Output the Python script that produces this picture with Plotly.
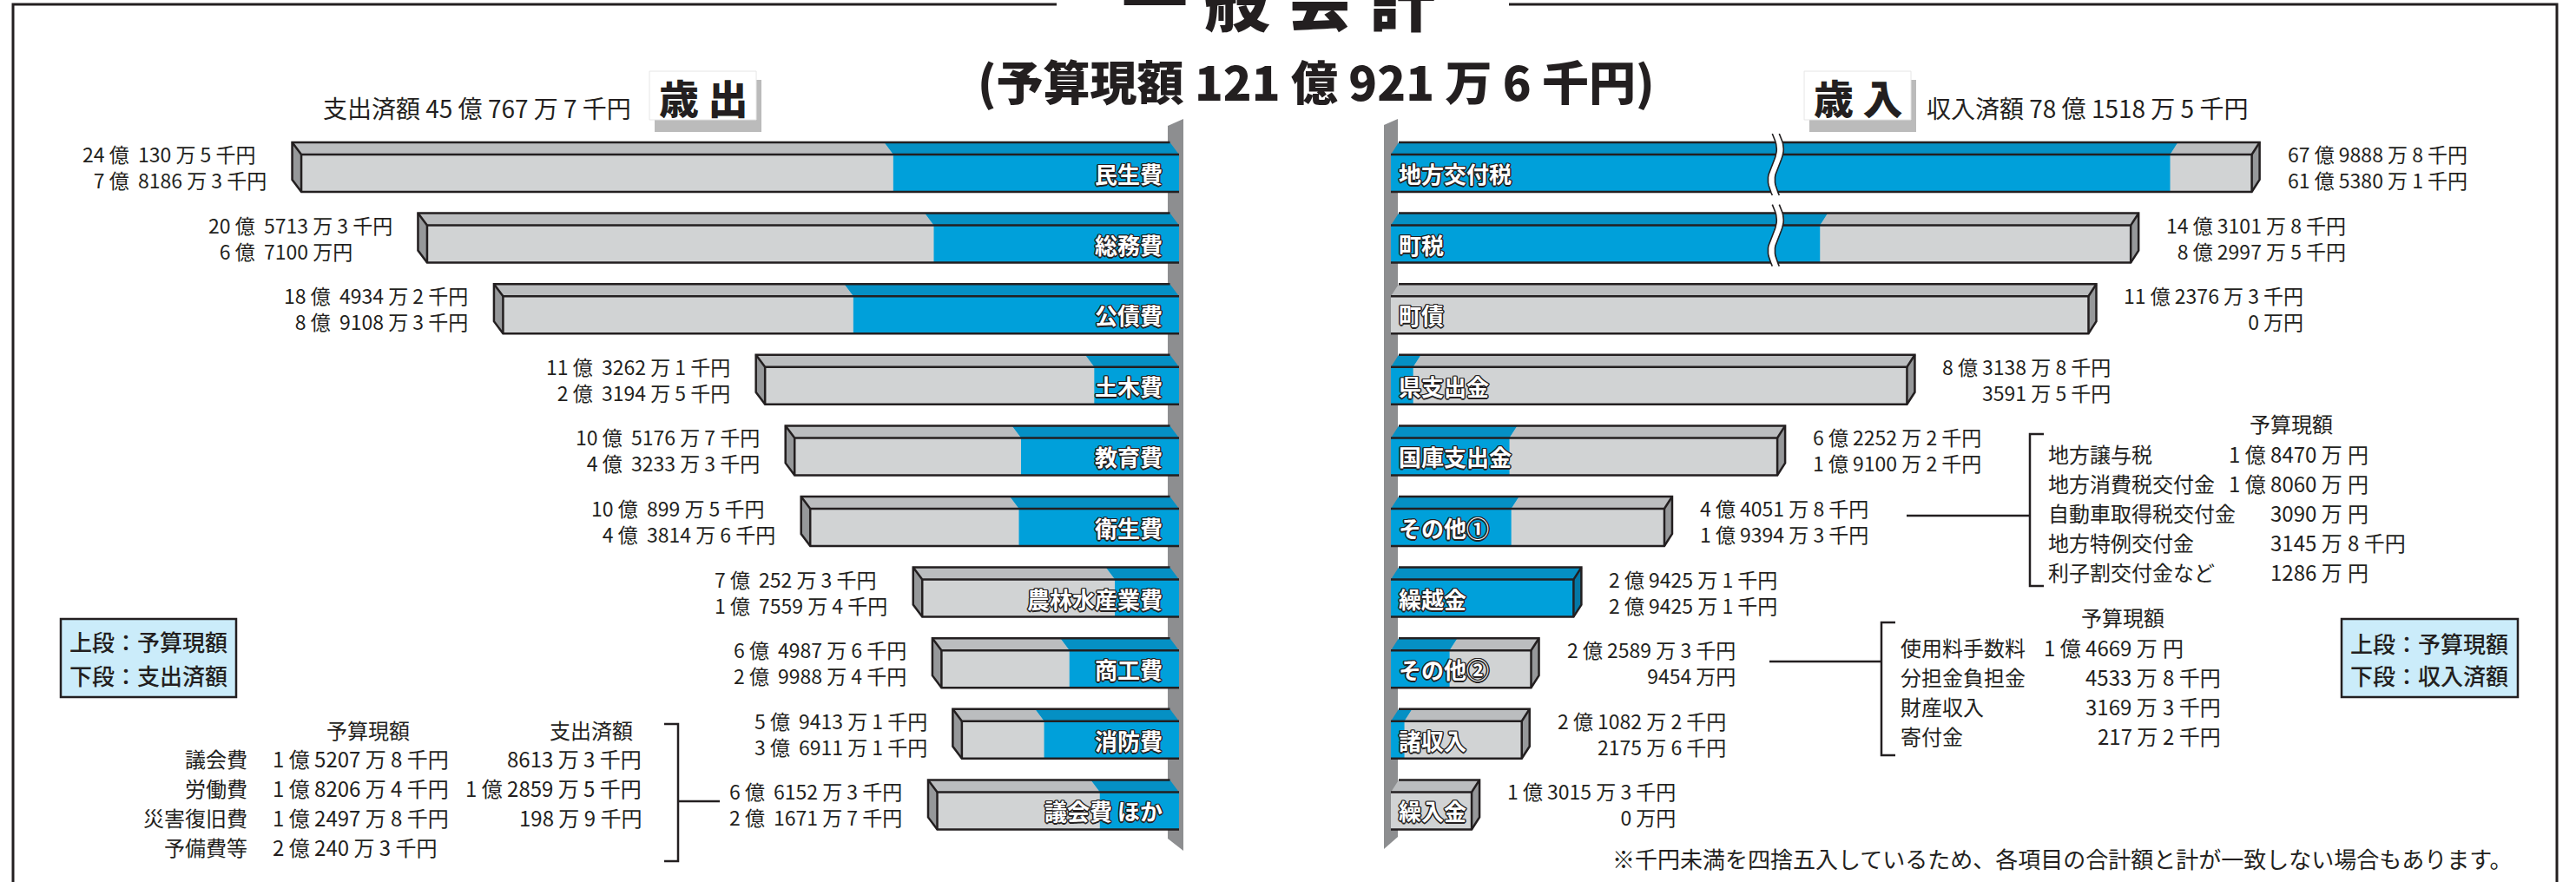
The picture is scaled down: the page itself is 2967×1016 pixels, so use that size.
import math
import plotly.graph_objects as go

W, H = 2967, 1016
FONT = "Noto Sans CJK JP"
INK = "#231f20"

# ---------------- data (units: 千円) ----------------
exp_categories = ["民生費", "総務費", "公債費", "土木費", "教育費", "衛生費",
                  "農林水産業費", "商工費", "消防費", "議会費 ほか"]
exp_budget = [2401305, 2057133, 1849342, 1132621, 1051767, 1008995,
              702523, 649876, 594131, 661523]
exp_spent = [781863, 671000, 891083, 231945, 432333, 438146,
             175594, 299884, 369111, 216717]

rev_categories = ["地方交付税", "町税", "町債", "県支出金", "国庫支出金",
                  "その他①", "繰越金", "その他②", "諸収入", "繰入金"]
rev_budget = [6798888, 1431018, 1123763, 831388, 622522,
              440518, 294251, 225893, 210822, 130153]
rev_received = [6153801, 829975, 0, 35915, 191002,
                193943, 294251, 94540, 21756, 0]
rev_axis_break = [True, True, False, False, False,
                  False, False, False, False, False]

total_budget = 12109216
total_spent = 4507677
total_received = 7815185

other_exp_items = ["議会費", "労働費", "災害復旧費", "予備費等"]
other_exp_budget = [152078, 182064, 124978, 202403]
other_exp_spent = [86133, 128595, 1989, None]

other_rev1_items = ["地方譲与税", "地方消費税交付金", "自動車取得税交付金",
                    "地方特例交付金", "利子割交付金など"]
other_rev1_budget = [184700, 180600, 30900, 31458, 12860]

other_rev2_items = ["使用料手数料", "分担金負担金", "財産収入", "寄付金"]
other_rev2_budget = [146690, 45338, 31693, 2172]

footnote = "※千円未満を四捨五入しているため、各項目の合計額と計が一致しない場合もあります。"


def fmt(v):
    oku, rem = divmod(v, 100000)
    man, sen = divmod(rem, 10)
    s = (f"{oku} 億 " if oku else "") + f"{man} 万"
    s += f" {sen} 千円" if sen else "円"
    return s


def text_w(s, size):
    w = 0.0
    for ch in s:
        if ch.isdigit():
            w += 0.56
        elif ch == " ":
            w += 0.224
        else:
            w += 1.0
    return w * size


# ---------------- geometry / scales ----------------
LX0, LPX = 1358, 42.1      # left axis zero (px), px per 億
RX0, RPX = 1602, 71.5      # right axis zero (px), px per 億
ROW0, ROWPX = 192, 81.6    # first row centre (px), row pitch (px)
BREAK, COMP_C, COMP_P = 6.20, 4.226, 0.1445   # visual axis break for huge bars

yT_off, yF_off, yB_off = -28 / ROWPX, -14 / ROWPX, 29 / ROWPX
CAPY = 14 / ROWPX
dL = 10.5 / LPX
dR = 9 / RPX

C_GRAY, C_GRAY_TOP, C_GRAY_CAP = "#d1d3d4", "#bbbdbf", "#96989a"
C_BLUE, C_BLUE_TOP, C_BLUE_CAP = "#00a0da", "#0590c4", "#0478a6"

VAL_SIZE = 23
TAB_SIZE = 24


def px(x):
    return x / W


def py(y):
    return 1 - y / H


def shown(v, broken):
    if broken and v > BREAK:
        return BREAK + COMP_C * (v - BREAK) ** COMP_P
    return v


def add_poly(store, pts):
    xs, ys = store
    for x, y in pts + [pts[0]]:
        xs.append(x)
        ys.append(y)
    xs.append(None)
    ys.append(None)


def add_line(store, pts):
    xs, ys = store
    for x, y in pts:
        xs.append(x)
        ys.append(y)
    xs.append(None)
    ys.append(None)


def build_bars(lengths, fills, d, xaxis):
    layers = {k: ([], []) for k in ["gf", "bf", "gt", "bt", "gc", "bc", "ol"]}
    for k, (L, S) in enumerate(zip(lengths, fills)):
        yT, yF, yB = k + yT_off, k + yF_off, k + yB_off
        yC = yB - CAPY
        add_poly(layers["gf"], [(0, yF), (L, yF), (L, yB), (0, yB)])
        if S > 0:
            add_poly(layers["bf"], [(0, yF), (S, yF), (S, yB), (0, yB)])
            add_poly(layers["bt"], [(0, yF), (S, yF), (S + d, yT), (d, yT)])
        if S < L:
            add_poly(layers["gt"], [(S, yF), (L, yF), (L + d, yT), (S + d, yT)])
        cap = [(L, yF), (L + d, yT), (L + d, yC), (L, yB)]
        add_poly(layers["bc" if S >= L else "gc"], cap)
        add_line(layers["ol"], [(d, yT), (L + d, yT), (L + d, yC), (L, yB), (0, yB)])
        add_line(layers["ol"], [(0, yF), (L, yF), (L + d, yT)])
        add_line(layers["ol"], [(L, yF), (L, yB)])
    colors = {"gf": C_GRAY, "bf": C_BLUE, "gt": C_GRAY_TOP, "bt": C_BLUE_TOP,
              "gc": C_GRAY_CAP, "bc": C_BLUE_CAP}
    traces = []
    for key in ["gf", "bf", "gt", "bt", "gc", "bc"]:
        xs, ys = layers[key]
        if not xs:
            continue
        traces.append(go.Scatter(x=xs, y=ys, xaxis=xaxis, yaxis="y", mode="lines",
                                 line=dict(width=0, color=colors[key]), fill="toself",
                                 fillcolor=colors[key], hoverinfo="skip", showlegend=False))
    xs, ys = layers["ol"]
    traces.append(go.Scatter(x=xs, y=ys, xaxis=xaxis, yaxis="y", mode="lines",
                             line=dict(width=2.5, color=INK), hoverinfo="skip",
                             showlegend=False))
    return traces


fig = go.Figure()

# left (expenditure) bars
exp_len = [b / 1e5 for b in exp_budget]
exp_fill = [s / 1e5 for s in exp_spent]
for t in build_bars(exp_len, exp_fill, dL, "x"):
    fig.add_trace(t)

# right (revenue) bars
rev_len = [shown(b / 1e5, br) for b, br in zip(rev_budget, rev_axis_break)]
rev_fill = [Ls * (r / b) for Ls, r, b in zip(rev_len, rev_received, rev_budget)]
for t in build_bars(rev_len, rev_fill, dR, "x2"):
    fig.add_trace(t)

# axis-break marks
for k, br in enumerate(rev_axis_break):
    if not br:
        continue
    y0, y1 = k - 38 / ROWPX, k + 33 / ROWPX
    n = 24
    left, right = [], []
    for i in range(n + 1):
        t = i / n
        yy = y0 + (y1 - y0) * t
        xw = BREAK + (5 / RPX) * math.sin(2 * math.pi * t)
        left.append((xw - 4 / RPX, yy))
        right.append((xw + 4 / RPX, yy))
    poly = left + right[::-1]
    fig.add_trace(go.Scatter(x=[p[0] for p in poly] + [poly[0][0]],
                             y=[p[1] for p in poly] + [poly[0][1]],
                             xaxis="x2", yaxis="y", mode="lines", fill="toself",
                             fillcolor="white", line=dict(width=0, color="white"),
                             hoverinfo="skip", showlegend=False))
    lx = [p[0] for p in left] + [None] + [p[0] for p in right]
    ly = [p[1] for p in left] + [None] + [p[1] for p in right]
    fig.add_trace(go.Scatter(x=lx, y=ly, xaxis="x2", yaxis="y", mode="lines",
                             line=dict(width=1.6, color=INK), hoverinfo="skip",
                             showlegend=False))

ann = []
OUTLINE = ", ".join(f"{a}px {b}px 0 {INK}" for a, b in
                    [(1, 1), (-1, -1), (1, -1), (-1, 1), (0, 1.5), (0, -1.5), (1.5, 0), (-1.5, 0)])
LBL_FONT = dict(family=FONT, size=26, color="white", weight=700, shadow=OUTLINE)
VAL_FONT = dict(family=FONT, size=VAL_SIZE, color=INK)

# category labels on bars
for k, name in enumerate(exp_categories):
    ann.append(dict(x=17 / LPX, y=k + 7.5 / ROWPX, xref="x", yref="y", text=name,
                    xanchor="right", yanchor="middle", showarrow=False, font=LBL_FONT))
for k, name in enumerate(rev_categories):
    ann.append(dict(x=7 / RPX, y=k + 7.5 / ROWPX, xref="x2", yref="y", text=name,
                    xanchor="left", yanchor="middle", showarrow=False, font=LBL_FONT))

# left value labels (aligned on 億)
GAP_L = 34
for k in range(len(exp_categories)):
    lines = [fmt(exp_budget[k]), fmt(exp_spent[k])]
    pre, suf = [], []
    for s in lines:
        if "億" in s:
            i = s.index("億")
            pre.append(s[:i + 1])
            suf.append(s[i + 1:].strip())
        else:
            pre.append("")
            suf.append(s)
    maxw = max(text_w(s, VAL_SIZE) for s in suf)
    A = exp_len[k] + (10.5 + GAP_L + maxw) / LPX
    ann.append(dict(x=A, y=k, xref="x", yref="y", text="<br>".join(pre), align="right",
                    xanchor="right", yanchor="middle", xshift=-3, showarrow=False,
                    font=VAL_FONT))
    ann.append(dict(x=A, y=k, xref="x", yref="y", text="<br>".join(suf), align="left",
                    xanchor="left", yanchor="middle", xshift=3, showarrow=False,
                    font=VAL_FONT))

# right value labels (right aligned block)
for k in range(len(rev_categories)):
    txt = fmt(rev_budget[k]) + "<br>" + fmt(rev_received[k])
    ann.append(dict(x=rev_len[k] + dR + 30 / RPX, y=k, xref="x2", yref="y", text=txt,
                    align="right", xanchor="left", yanchor="middle", showarrow=False,
                    font=VAL_FONT))


def pa(xp, yp, text, xanchor="center", size=TAB_SIZE, weight=400, color=INK, yanchor="middle"):
    ann.append(dict(x=px(xp), y=py(yp), xref="paper", yref="paper", text=text,
                    xanchor=xanchor, yanchor=yanchor, showarrow=False,
                    font=dict(family=FONT, size=size, color=color, weight=weight)))


# titles
for ch, xc in zip("一般会計", [1330, 1425, 1520, 1615]):
    pa(xc, -3, ch, size=76, weight=900)
pa(1516, 92, "(予算現額 " + fmt(total_budget) + ")", size=54, weight=900)
pa(810, 111, "歳 出", size=46, weight=900)
pa(2140, 111, "歳 入", size=46, weight=900)
pa(729, 124, "支出済額 " + fmt(total_spent), xanchor="right", size=28)
pa(2217, 124, "収入済額 " + fmt(total_received), xanchor="left", size=28)

# legend boxes
pa(171, 738, "上段：予算現額", size=26, weight=500)
pa(171, 777, "下段：支出済額", size=26, weight=500)
pa(2798, 740, "上段：予算現額", size=26, weight=500)
pa(2798, 777, "下段：収入済額", size=26, weight=500)

# left breakdown table
pa(424, 840, "予算現額")
pa(681, 840, "支出済額")
for i, name in enumerate(other_exp_items):
    yy = 873 + 34 * i
    pa(287, yy, name, xanchor="right")
    pa(312, yy, fmt(other_exp_budget[i]), xanchor="left")
    if other_exp_spent[i] is not None:
        pa(741, yy, fmt(other_exp_spent[i]), xanchor="right")


def man_split(s):
    i = s.index("万")
    return s[:i + 1], s[i + 1:].strip()


# right breakdown table 1
pa(2639, 487, "予算現額")
for i, name in enumerate(other_rev1_items):
    yy = 522 + 34 * i
    pa(2357, yy, name, xanchor="left")
    a, b = man_split(fmt(other_rev1_budget[i]))
    pa(2700, yy, a, xanchor="right")
    pa(2702, yy, b, xanchor="left")

# right breakdown table 2
pa(2445, 710, "予算現額")
for i, name in enumerate(other_rev2_items):
    yy = 745 + 34 * i
    pa(2187, yy, name, xanchor="left")
    a, b = man_split(fmt(other_rev2_budget[i]))
    pa(2487, yy, a, xanchor="right")
    pa(2489, yy, b, xanchor="left")

pa(2896, 988, footnote, xanchor="right", size=26)

# ---------------- decorative shapes ----------------
shapes = []


def path_shape(d, fill=None, width=2.5, color=INK, layer="above"):
    s = dict(type="path", xref="paper", yref="paper", path=d, layer=layer,
             line=dict(color=color, width=width))
    if fill:
        s["fillcolor"] = fill
    return s


def P(pts, close=False):
    d = "M " + " L ".join(f"{px(x):.6f},{py(y):.6f}" for x, y in pts)
    return d + (" Z" if close else "")


# frame
shapes.append(path_shape(P([(15, 1016), (15, 5), (1217, 5)]), width=3))
shapes.append(path_shape(P([(1738, 5), (2945, 5), (2945, 1016)]), width=3))
# axis strips
shapes.append(path_shape(P([(1345, 145), (1363, 137), (1363, 980), (1345, 966)], True),
                         fill="#8d8e90", width=0, color="#8d8e90", layer="below"))
shapes.append(path_shape(P([(1594, 144), (1610, 137), (1610, 964), (1594, 978)], True),
                         fill="#8d8e90", width=0, color="#8d8e90", layer="below"))
# 歳出 / 歳入 boxes with shadows
for x0, x1 in [(748, 871), (2078, 2201)]:
    shapes.append(path_shape(P([(x0 + 6, 92), (x1 + 6, 92), (x1 + 6, 152), (x0 + 6, 152)], True),
                             fill="rgba(60,60,60,0.35)", width=0, color="rgba(0,0,0,0)"))
    shapes.append(path_shape(P([(x0, 82), (x1, 82), (x1, 138), (x0, 138)], True),
                             fill="white", width=1, color="#e6e6e6"))
# legend boxes
shapes.append(path_shape(P([(70, 713), (272, 713), (272, 803), (70, 803)], True),
                         fill="#cbecfa", width=2.5))
shapes.append(path_shape(P([(2697, 713), (2900, 713), (2900, 803), (2697, 803)], True),
                         fill="#cbecfa", width=2.5))
# brackets and connectors
shapes.append(path_shape(P([(765, 834), (781, 834), (781, 992), (765, 992)])))
shapes.append(path_shape(P([(781, 923), (829, 923)])))
shapes.append(path_shape(P([(2354, 500), (2338, 500), (2338, 675), (2354, 675)])))
shapes.append(path_shape(P([(2196, 594), (2338, 594)])))
shapes.append(path_shape(P([(2183, 717), (2167, 717), (2167, 870), (2183, 870)])))
shapes.append(path_shape(P([(2038, 762), (2167, 762)])))

ytop = -ROW0 / ROWPX
ybot = (H - ROW0) / ROWPX
fig.update_layout(
    width=W, height=H, margin=dict(l=0, r=0, t=0, b=0),
    paper_bgcolor="white", plot_bgcolor="white",
    showlegend=False, hovermode=False,
    xaxis=dict(domain=[0, LX0 / W], range=[LX0 / LPX, 0], visible=False,
               fixedrange=True, anchor="y"),
    xaxis2=dict(domain=[RX0 / W, 1], range=[0, (W - RX0) / RPX], visible=False,
                fixedrange=True, anchor="y"),
    yaxis=dict(domain=[0, 1], range=[ybot, ytop], visible=False, fixedrange=True),
    annotations=ann, shapes=shapes,
    font=dict(family=FONT, color=INK),
)

fig.write_html("out.html", config={"displayModeBar": False})
